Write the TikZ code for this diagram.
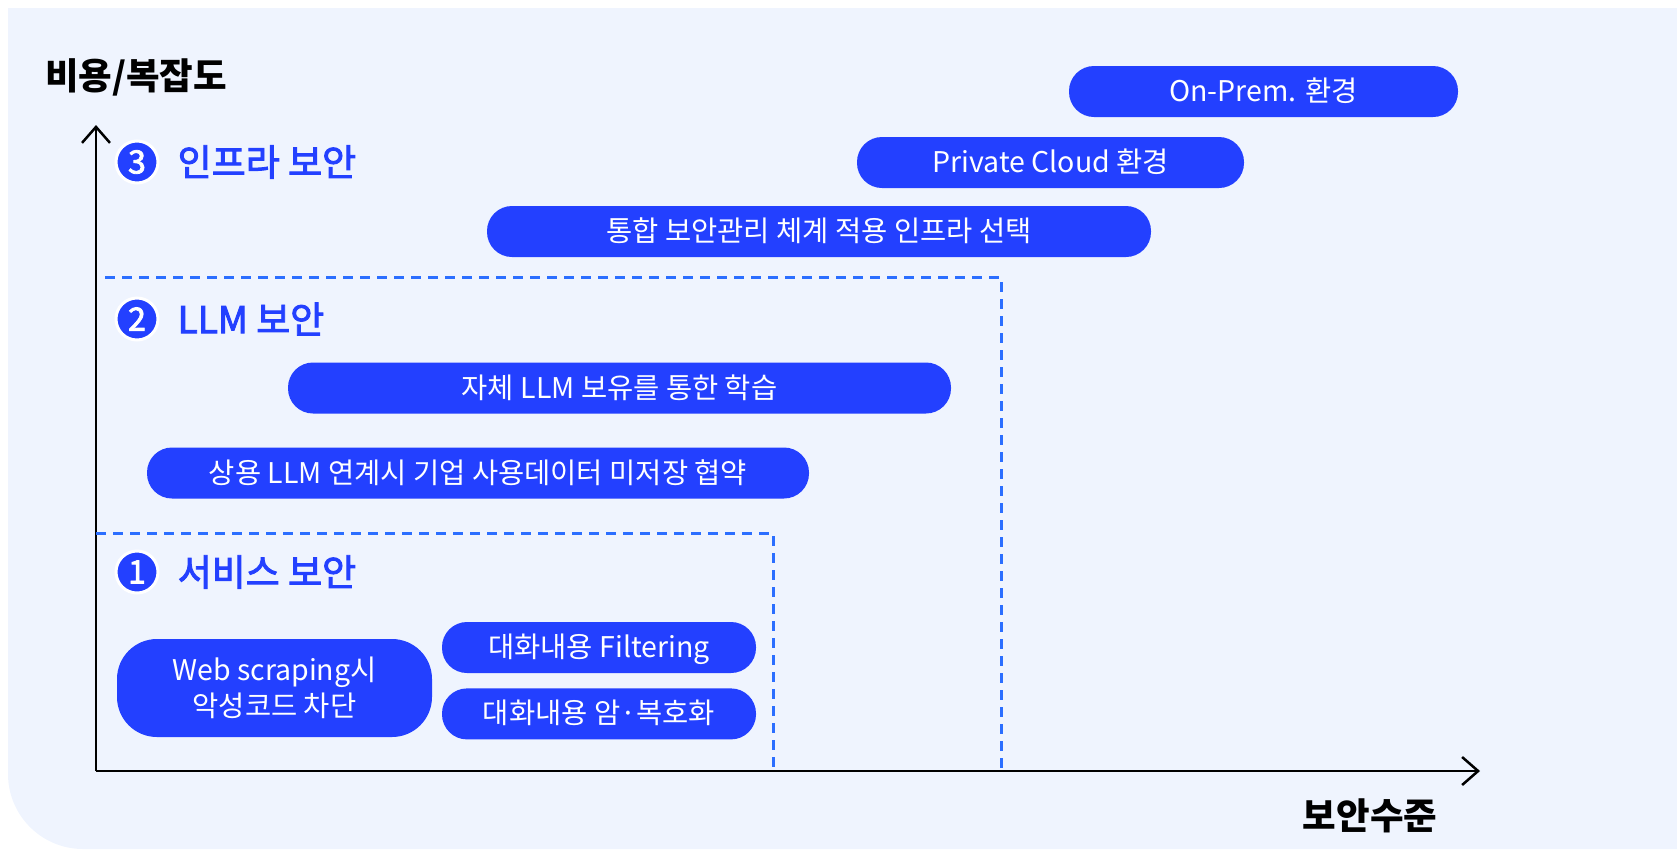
\documentclass[tikz,border=0pt]{standalone}
\usepackage{fontspec}
\setmainfont{Noto Sans CJK KR}
\newfontfamily\midfont[FakeBold=2.5]{Noto Sans CJK KR}
\usetikzlibrary{arrows.meta,positioning}
\definecolor{bgblue}{HTML}{EFF4FE}
\definecolor{pillblue}{HTML}{2340FF}
\definecolor{dashblue}{HTML}{2B6EFF}

\begin{document}
\begin{tikzpicture}[x=1pt, y=-1pt,
		pill/.style={rectangle, fill=pillblue, text=white, rounded corners=25pt, minimum height=51pt, inner sep=0pt, text height=22pt, text depth=2pt, font=\fontsize{28.5}{30}\selectfont},
		numdot/.style={circle, fill=pillblue, draw=white, line width=3pt, minimum size=42pt, inner sep=0pt, text=white, font=\fontsize{32}{32}\midfont},
		heading/.style={inner sep=0pt, text=pillblue, anchor=west, font=\fontsize{37}{40}\midfont},
		zone/.style={dashblue, line width=3pt, dash pattern=on 10pt off 7pt}]
				\useasboundingbox (0,0) rectangle (1677,849);
				\begin{scope}
					\clip (0,8) rectangle (1677,849);
					\fill[bgblue, rounded corners=75pt] (8,-100) rectangle (1777,849);
				\end{scope}
				
				% axes
				\coordinate (o) at (96,771);
				\coordinate (ytip) at (96,125);
				\coordinate (xtip) at (1480,771);
				\draw[line width=2.5pt, -{Straight Barb[length=16pt, width=28pt]}] (o) -- (ytip);
				\draw[line width=2.5pt, -{Straight Barb[length=16pt, width=28pt]}] (o) -- (xtip);
				\node[font=\fontsize{36.5}{38}\selectfont\bfseries] (ylab) at (136,77) {비용/복잡도};
				\node[font=\fontsize{36.5}{38}\selectfont\bfseries] (xlab) at (1370,816) {보안수준};
				
				% zones
				\coordinate (z2a) at (105,277);
				\coordinate (z2b) at (1001,277);
				\coordinate (z2c) at (1001,771);
				\draw[zone] (z2a) -- (z2b) -- (z2c);
				\coordinate (z1a) at (96,533);
				\coordinate (z1b) at (773,533);
				\coordinate (z1c) at (773,771);
				\draw[zone] (z1a) -- (z1b) -- (z1c);
				
				% headings
				\node[numdot] (n3) at (137,162) {3};
				\node[heading, right=18pt of n3] (h3) {인프라 보안};
				\node[numdot] (n2) at (137,319) {2};
				\node[heading, right=18pt of n2] (h2) {LLM 보안};
				\node[numdot] (n1) at (137,572) {1};
				\node[heading, right=18pt of n1] (h1) {서비스 보안};
				
				% infra
				\node[pill, minimum width=389pt] (onprem) at (1263.5,91.5) {On-Prem. 환경};
				\node[pill, minimum width=387pt] (cloud) at (1050.5,162.5) {Private Cloud 환경};
				\node[pill, minimum width=664pt] (infra) at (819,231.5) {통합 보안관리 체계 적용 인프라 선택};
				
				% llm
				\node[pill, minimum width=663pt] (own) at (619.5,388) {자체 LLM 보유를 통한 학습};
				\node[pill, minimum width=662pt] (comm) at (478,473) {상용 LLM 연계시 기업 사용데이터 미저장 협약};
				
				% service
				\node[pill, minimum width=315pt, minimum height=98pt, rounded corners=40pt, align=center, text height=, text depth=, font=\fontsize{28.5}{36}\selectfont] (web) at (274.5,688) {Web scraping시\\악성코드 차단};
				\node[pill, minimum width=314pt] (filt) at (599,647.5) {대화내용 Filtering};
				\node[pill, minimum width=314pt, below=15pt of filt] (enc) {대화내용 암·복호화};
			\end{tikzpicture}
\end{document}
